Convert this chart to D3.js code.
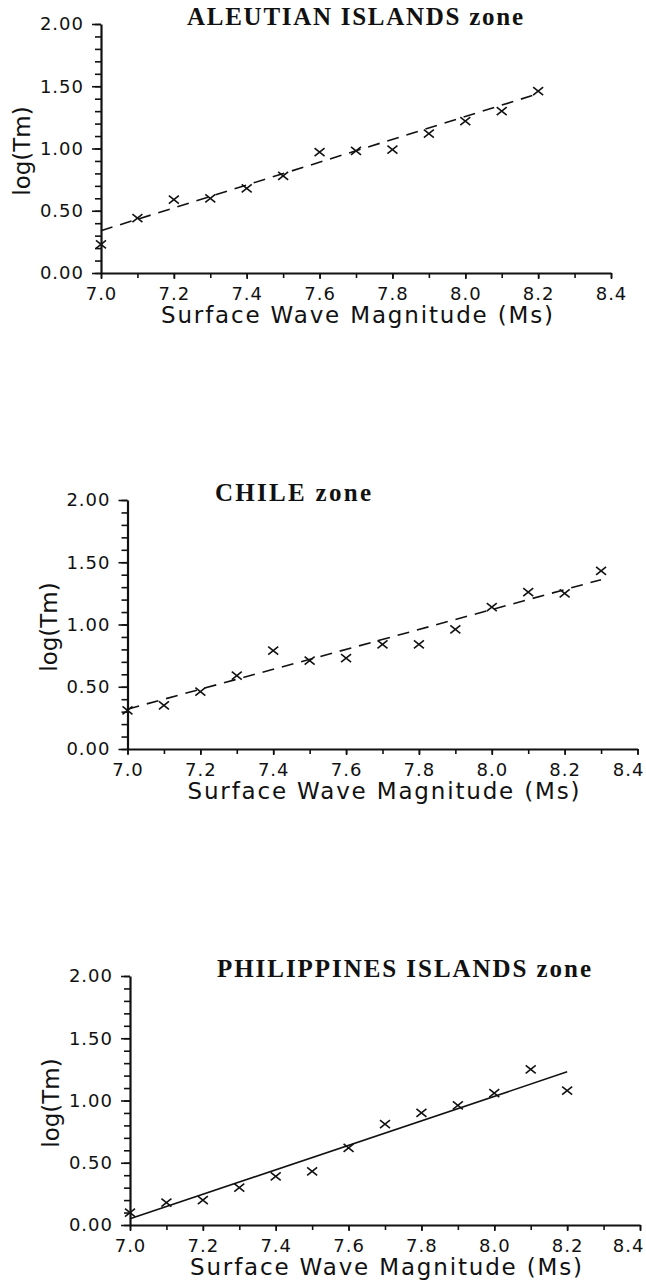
<!DOCTYPE html>
<html>
<head>
<meta charset="utf-8">
<script src="https://cdn.jsdelivr.net/npm/d3@7"></script>
<style>
  body { margin: 0; background: #fff; }
  .tick text { font-family: "DejaVu Sans", sans-serif; font-size: 18px; letter-spacing: 1px; fill: #111; }
  .label { font-family: "DejaVu Sans", sans-serif; font-size: 23px; fill: #111; }
  .title { font-family: "Liberation Serif", serif; font-weight: bold; font-size: 25px; fill: #111; }
</style>
</head>
<body>
<div id="chart"></div>
<script>
var width = 646, height = 1284;

// magnitudes on the x axis (Ms)
var magnitudes13 = [7.0, 7.1, 7.2, 7.3, 7.4, 7.5, 7.6, 7.7, 7.8, 7.9, 8.0, 8.1, 8.2];
var magnitudes14 = [7.0, 7.1, 7.2, 7.3, 7.4, 7.5, 7.6, 7.7, 7.8, 7.9, 8.0, 8.1, 8.2, 8.3];

// log(Tm)
var aleutianLogTm = [0.23, 0.44, 0.59, 0.60, 0.68, 0.78, 0.97, 0.98, 0.99, 1.12, 1.22, 1.30, 1.46];
var chileLogTm = [0.31, 0.35, 0.46, 0.59, 0.79, 0.71, 0.73, 0.84, 0.84, 0.96, 1.14, 1.26, 1.25, 1.43];
var philippinesLogTm = [0.10, 0.18, 0.20, 0.30, 0.39, 0.43, 0.62, 0.81, 0.90, 0.96, 1.06, 1.25, 1.08];

// fitted lines, end points [Ms, log(Tm)]
var aleutianFit = [[7.0, 0.34], [8.2, 1.44]];
var chileFit = [[7.0, 0.32], [8.3, 1.36]];
var philippinesFit = [[7.0, 0.05], [8.2, 1.23]];

// axis ticks
var xTicks = d3.range(70, 85).map(function(d) { return d / 10; });
var xLabels = [7.0, 7.2, 7.4, 7.6, 7.8, 8.0, 8.2, 8.4];
var yTicks = d3.range(0, 21).map(function(d) { return d / 10; });
var yLabels = [0, 0.5, 1.0, 1.5, 2.0];

var svg = d3.select('#chart').append('svg')
  .attr('width', width)
  .attr('height', height);

svg.append('rect').attr('width', width).attr('height', height).attr('fill', '#fff');

function drawPanel(opt) {
  var xScale = d3.scaleLinear().domain([7.0, 8.4]).range([opt.left, opt.left + 510]);
  var yScale = d3.scaleLinear().domain([0, 2]).range([opt.bottom, opt.bottom - 249]);

  var g = svg.append('g');

  // minor ticks
  g.append('g')
    .attr('transform', 'translate(0,' + opt.bottom + ')')
    .call(d3.axisBottom(xScale).tickValues(xTicks).tickSize(5).tickSizeOuter(0).tickFormat(''))
    .call(function(a) { a.select('.domain').remove(); });
  g.append('g')
    .attr('transform', 'translate(' + opt.left + ',0)')
    .call(d3.axisLeft(yScale).tickValues(yTicks).tickSize(6).tickSizeOuter(0).tickFormat(''))
    .call(function(a) { a.select('.domain').remove(); });

  // labelled ticks
  var xa = g.append('g')
    .attr('transform', 'translate(0,' + opt.bottom + ')')
    .call(d3.axisBottom(xScale).tickValues(xLabels).tickSize(6).tickSizeOuter(0).tickPadding(8).tickFormat(d3.format('.1f')));
  var ya = g.append('g')
    .attr('transform', 'translate(' + opt.left + ',0)')
    .call(d3.axisLeft(yScale).tickValues(yLabels).tickSize(9).tickSizeOuter(0).tickPadding(8).tickFormat(d3.format('.2f')));

  g.selectAll('.tick line').attr('stroke', '#111').attr('stroke-width', 1.6);
  g.selectAll('.domain').attr('stroke', '#111').attr('stroke-width', 2.2);
  g.selectAll('.tick text').attr('font-family', null).attr('font-size', null);

  // keep the last x label inside the page
  xa.selectAll('.tick').each(function(d) {
    var x = xScale(d);
    var t = d3.select(this).select('text');
    var w = t.node().getComputedTextLength();
    if (x + w / 2 > width - 2) {
      t.attr('text-anchor', 'end').attr('x', width - 2 - x);
    }
  });

  // fitted line
  g.append('path')
    .datum(opt.fit)
    .attr('d', d3.line().x(function(d) { return xScale(d[0]); }).y(function(d) { return yScale(d[1]); }))
    .attr('fill', 'none')
    .attr('stroke', '#111')
    .attr('stroke-width', 1.6)
    .attr('stroke-dasharray', opt.dashed ? '12,8' : null);

  // crosses
  g.selectAll('.pt')
    .data(opt.ms.map(function(m, i) { return [m, opt.values[i]]; }))
    .enter()
    .append('path')
    .attr('class', 'pt')
    .attr('transform', function(d) { return 'translate(' + xScale(d[0]) + ',' + yScale(d[1]) + ')'; })
    .attr('d', 'M-5,-4L5,4M-5,4L5,-4')
    .attr('fill', 'none')
    .attr('stroke', '#111')
    .attr('stroke-width', 1.6);

  g.append('text')
    .attr('class', 'title')
    .attr('x', opt.titleX)
    .attr('y', opt.bottom - 248)
    .attr('textLength', opt.titleW)
    .attr('lengthAdjust', 'spacing')
    .text(opt.title);

  g.append('text')
    .attr('class', 'label')
    .attr('text-anchor', 'middle')
    .attr('x', opt.left + 256)
    .attr('y', opt.bottom + 50)
    .attr('textLength', 392)
    .attr('lengthAdjust', 'spacing')
    .text('Surface Wave Magnitude (Ms)');

  g.append('text')
    .attr('class', 'label')
    .attr('text-anchor', 'middle')
    .attr('transform', 'translate(' + (opt.left - 71) + ',' + (opt.bottom - 122) + ') rotate(-90)')
    .text('log(Tm)');
}

drawPanel({ left: 101, bottom: 273, ms: magnitudes13, values: aleutianLogTm, fit: aleutianFit, dashed: true,
  title: 'ALEUTIAN ISLANDS zone', titleX: 187, titleW: 336 });
drawPanel({ left: 127.5, bottom: 749, ms: magnitudes14, values: chileLogTm, fit: chileFit, dashed: true,
  title: 'CHILE zone', titleX: 215, titleW: 156 });
drawPanel({ left: 130, bottom: 1225, ms: magnitudes13, values: philippinesLogTm, fit: philippinesFit, dashed: false,
  title: 'PHILIPPINES ISLANDS zone', titleX: 217, titleW: 374 });
</script>
</body>
</html>
